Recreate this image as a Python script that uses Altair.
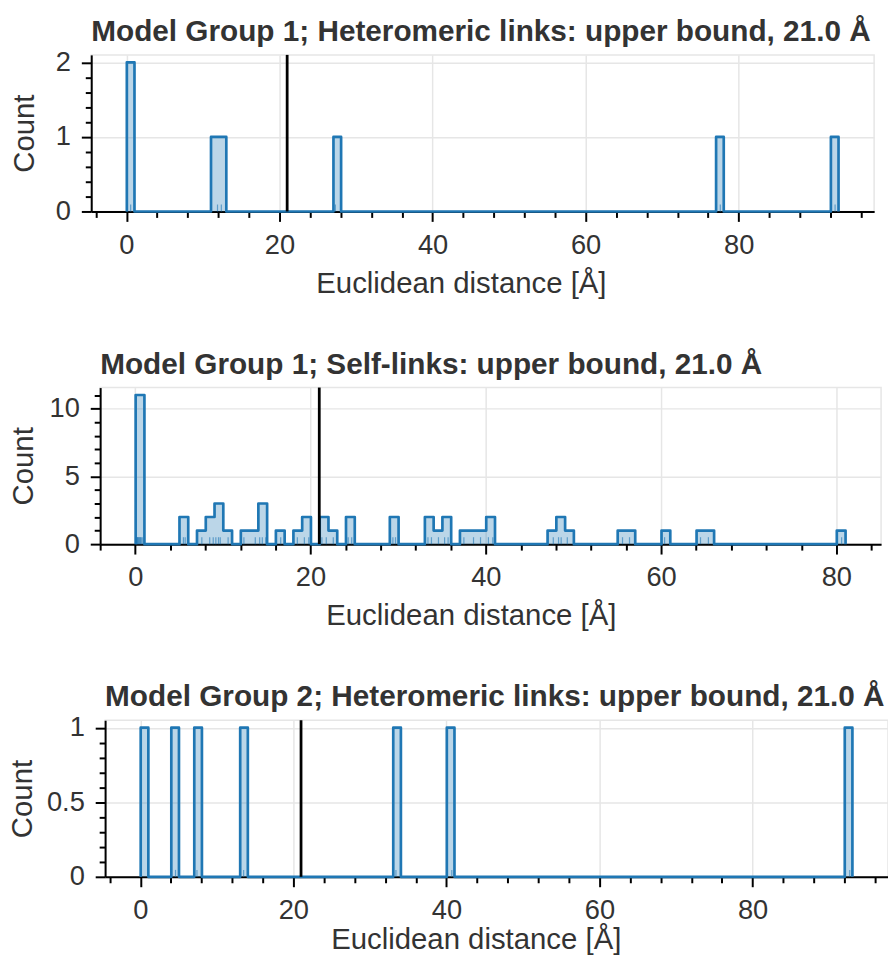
import altair as alt
import numpy as np
import pandas as pd

# ---- data -------------------------------------------------------------
titles = [
    "Model Group 1; Heteromeric links: upper bound, 21.0 Å",
    "Model Group 1; Self-links: upper bound, 21.0 Å",
    "Model Group 2; Heteromeric links: upper bound, 21.0 Å",
]
upper_bound = 21.0

dist_mg1_hetero = [0.05, 0.55, 11.9, 12.4, 27.3, 77.6, 92.6]
dist_mg1_self = [
    0.05, 0.12, 0.2, 0.25, 0.3, 0.37, 0.45, 0.52, 0.6, 0.68, 0.8,
    5.5, 5.7, 7.6, 8.5, 8.9, 9.2, 9.5, 9.7, 10.6, 12.4, 13.7,
    14.2, 14.5, 14.9, 16.6, 18.5, 19.3, 19.8, 21.3, 21.8, 22.6,
    24.3, 24.7, 29.4, 29.7, 33.4, 33.8, 34.6, 35.3, 35.7, 37.5,
    38.6, 39.4, 40.3, 40.8, 47.7, 48.3, 48.6, 49.3, 55.6, 56.4,
    60.4, 64.5, 65.4, 80.6,
]
dist_mg2_hetero = [0.05, 4.6, 7.4, 13.5, 33.4, 40.7, 92.7]

x_major = [0, 20, 40, 60, 80]
x_ticks_long = [-4, 0, 4, 8, 12, 16, 20, 24, 28, 32, 36, 40, 44, 48, 52,
                56, 60, 64, 68, 72, 76, 80, 84, 88, 92, 96]
x_ticks_short = [-4, 0, 4, 8, 12, 16, 20, 24, 28, 32, 36, 40, 44, 48, 52,
                 56, 60, 64, 68, 72, 76, 80, 84]

y1_major = [0, 1, 2]
y1_ticks = [0, 0.2, 0.4, 0.6, 0.8, 1, 1.2, 1.4, 1.6, 1.8, 2]
y2_major = [0, 5, 10]
y2_ticks = [0, 1, 2, 3, 4, 5, 6, 7, 8, 9, 10, 11]
y3_major = [0, 0.5, 1]
y3_ticks = [0, 0.1, 0.2, 0.3, 0.4, 0.5, 0.6, 0.7, 0.8, 0.9, 1]

BLUE = "#1f77b4"
TXT = "#333333"
FONT = "Liberation Sans"


def is_major(majors):
    return "indexof([" + ",".join(str(m) for m in majors) + "], datum.value) >= 0"


def panel(vals, title, ymajor, yticks, xticks, width, height, y_title_pad,
          x_title_x, x_title_pad):
    v = np.array(vals, dtype=float)
    lo, hi = v.min(), v.max()
    edges = np.arange(lo, hi + 1.0, 1.0)
    counts, _ = np.histogram(v, bins=edges)
    span = edges[-1] - edges[0]
    xdom = [edges[0] - 0.05 * span, edges[-1] + 0.05 * span]
    ymax = 1.05 * counts.max()

    area_df = pd.DataFrame({
        "x": list(edges[:-1]) + [edges[-1]],
        "y": list(counts) + [counts[-1]],
    })
    line_x = [edges[0]] + list(edges[:-1]) + [edges[-1], edges[-1]]
    line_y = [0] + list(counts) + [counts[-1], 0]
    line_df = pd.DataFrame({"x": line_x, "y": line_y,
                            "i": list(range(len(line_x)))})
    rug_df = pd.DataFrame({"x": v})
    ub_df = pd.DataFrame({"x": [upper_bound]})

    xmaj = is_major(x_major)
    x_axis = alt.Axis(
        title="Euclidean distance [Å]", values=xticks,
        labelExpr=f"{xmaj} ? '' + datum.value : ''",
        tickSize={"condition": {"test": xmaj, "value": 10}, "value": 6},
        gridOpacity={"condition": {"test": xmaj, "value": 1}, "value": 0},
        labelOverlap=False, labelFlush=False, labelPadding=10,
        titlePadding=x_title_pad, titleX=x_title_x,
    )
    ymaj = is_major(ymajor)
    y_axis = alt.Axis(
        title="Count", values=yticks,
        labelExpr=f"{ymaj} ? '' + datum.value : ''",
        tickSize={"condition": {"test": ymaj, "value": 10}, "value": 6},
        gridOpacity={"condition": {"test": ymaj, "value": 1}, "value": 0},
        labelOverlap=False, labelFlush=False, labelPadding=11,
        titlePadding=y_title_pad,
    )
    X = alt.X("x:Q", scale=alt.Scale(domain=xdom, nice=False, zero=False),
              axis=x_axis)
    Y = alt.Y("y:Q", scale=alt.Scale(domain=[0, ymax], nice=False),
              axis=y_axis)

    area = alt.Chart(area_df).mark_area(
        interpolate="step-after", color=BLUE, opacity=0.3
    ).encode(x=X, y=Y)
    line = alt.Chart(line_df).mark_line(
        interpolate="step-after", color=BLUE, strokeWidth=2.7,
        strokeJoin="round"
    ).encode(x=X, y=Y, order="i:Q")
    rug = alt.Chart(rug_df).mark_rule(
        color=BLUE, strokeWidth=1.2, opacity=0.6
    ).encode(x=X, y=alt.value(height), y2=alt.value(height - 7))
    rule = alt.Chart(ub_df).mark_rule(color="black", strokeWidth=2.8).encode(x=X)

    return alt.layer(area, line, rug, rule).properties(
        width=width, height=height,
        title=alt.TitleParams(
            title, anchor="start", frame="group", offset=1.6, fontSize=30,
            fontWeight="bold", font=FONT, color=TXT,
        ),
    )


def spacer(w):
    return alt.Chart(pd.DataFrame({"a": [0]})).mark_point(opacity=0).properties(
        width=w, height=1, view=alt.ViewBackground(stroke=None)
    )


def row(s, p):
    return alt.HConcatChart(hconcat=[spacer(s), p], spacing=0, bounds="flush")


p1 = panel(dist_mg1_hetero, titles[0], y1_major, y1_ticks, x_ticks_long,
           790, 158, 15.6, 373, 11)
p2 = panel(dist_mg1_self, titles[1], y2_major, y2_ticks, x_ticks_short,
           788, 158, 11, 374, 11)
p3 = panel(dist_mg2_hetero, titles[2], y3_major, y3_ticks, x_ticks_long,
           790, 158, 9, 374, 2)

chart = alt.VConcatChart(
    vconcat=[row(1, p1), row(9.9, p2), row(14.7, p3)],
    spacing=50.7, bounds="full"
).properties(
    autosize=alt.AutoSizeParams(type="none"),
    padding={"left": 83, "top": 43, "right": 805, "bottom": 906},
).configure_view(
    stroke="#e6e6e6", strokeWidth=1.5
).configure_axis(
    domainColor="black", domainWidth=2, tickColor="black", tickWidth=2,
    gridColor="#e6e6e6", gridWidth=1.5,
    labelFont=FONT, labelFontSize=27.5, labelColor=TXT,
    titleFont=FONT, titleFontSize=29.6, titleFontWeight="normal",
    titleColor=TXT,
)

chart.save("out.html", embed_options={"renderer": "svg", "actions": False})
